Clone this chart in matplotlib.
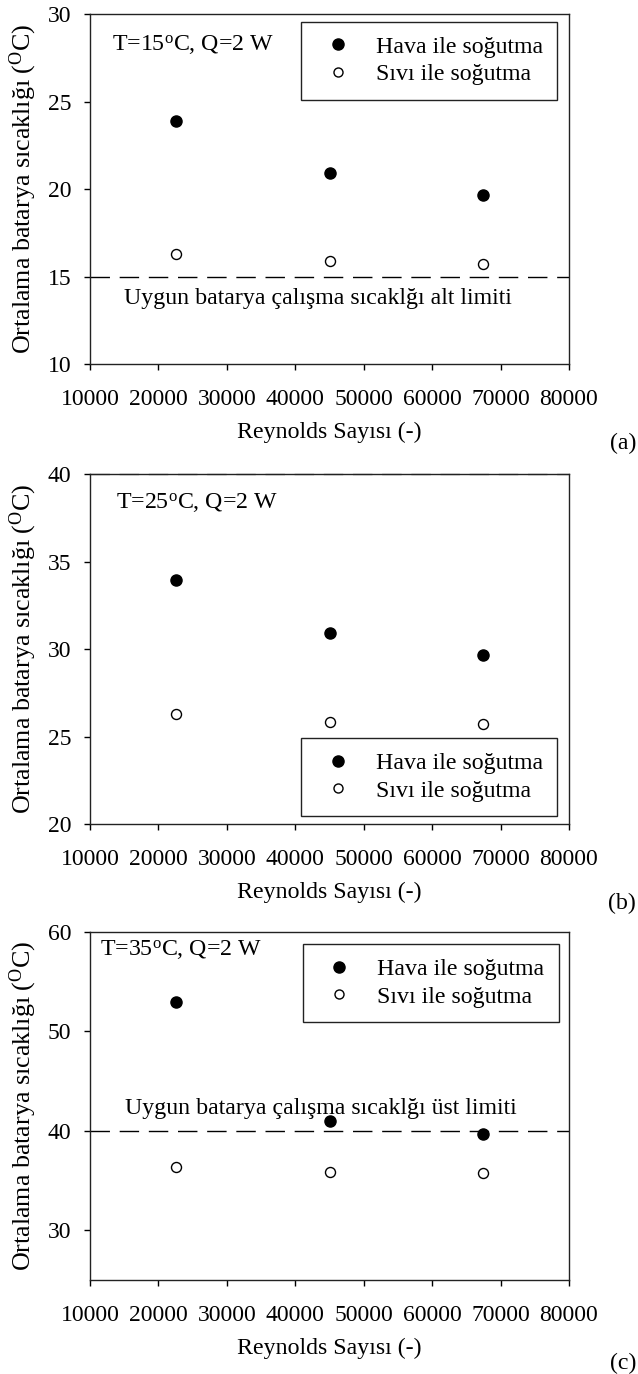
import matplotlib
matplotlib.use("Agg")
import matplotlib.pyplot as plt
from matplotlib.lines import Line2D

plt.rcParams['font.family'] = ['Liberation Serif', 'DejaVu Serif']
plt.rcParams['mathtext.fontset'] = 'custom'
plt.rcParams['mathtext.rm'] = 'Liberation Serif'
plt.rcParams['mathtext.it'] = 'Liberation Serif:italic'
plt.rcParams['mathtext.bf'] = 'Liberation Serif:bold'

# ---- data ----
reynolds = [22500, 45000, 67500]
hava_a = [23.9, 20.9, 19.65]
sivi_a = [16.3, 15.9, 15.7]
hava_b = [33.95, 30.9, 29.65]
sivi_b = [26.3, 25.85, 25.7]
hava_c = [52.95, 41.0, 39.65]
sivi_c = [36.35, 35.9, 35.75]

x_ticks = [10000, 20000, 30000, 40000, 50000, 60000, 70000, 80000]
ylims = [(10, 30), (20, 40), (25, 60)]
yticks = [[10, 15, 20, 25, 30], [20, 25, 30, 35, 40], [30, 40, 50, 60]]
titles = [r'T=15$^{\mathrm{o}}$C, Q=2 W', r'T=25$^{\mathrm{o}}$C, Q=2 W', r'T=35$^{\mathrm{o}}$C, Q=2 W']
limits = [15, None, 40]
limit_texts = ['Uygun batarya çalışma sıcaklğı alt limiti', None,
               'Uygun batarya çalışma sıcaklğı üst limiti']
limit_text_y = [13.75, None, 42.2]
limit_text_x = [0.476, None, 0.483]
panel_labels = ['(a)', '(b)', '(c)']
legend_labels = ['Hava ile soğutma', 'Sıvı ile soğutma']
ylabel = r'Ortalama batarya sıcaklığı ($^{\mathrm{O}}$C)'
xlabel = 'Reynolds Sayısı (-)'

hava = [hava_a, hava_b, hava_c]
sivi = [sivi_a, sivi_b, sivi_c]

W, H = 638, 1374
fig = plt.figure(figsize=(W / 100, H / 100), dpi=100)

left = 90 / W
width = (569 - 90) / W
tops = [14.3, 474.3, 931.7]
bottoms = [364, 824, 1280]
title_pos = [(0.046, 0.912), (0.054, 0.918), (0.020, 0.947)]
leg_anchor = [(0.975, 0.979), (0.975, 0.023), (0.979, 0.965)]
leg_loc = ['upper right', 'lower right', 'upper right']
panel_label_y = [443, 903, 1363]
fs = 17.2
fs_tick = 17
fs_ylabel = 18.7

for i in range(3):
    b = 1 - bottoms[i] / H
    h = (bottoms[i] - tops[i]) / H
    ax = fig.add_axes([left, b, width, h])
    ax.scatter(reynolds, hava[i], s=64, c='black', edgecolors='black', zorder=3)
    ax.scatter(reynolds, sivi[i], s=52, facecolors='white', edgecolors='black', linewidths=1.0, zorder=3)
    if limits[i] is not None:
        ax.axhline(limits[i], color='black', lw=1.0, dashes=(14, 7), zorder=2)
        ax.text(limit_text_x[i], limit_text_y[i], limit_texts[i], transform=ax.get_yaxis_transform(),
                ha='center', va='center', fontsize=fs)
    if i == 1:
        ax.axhline(40, color='gray', lw=1.0, dashes=(14, 7), zorder=1, clip_on=False)
    ax.set_xlim(10000, 80000)
    ax.set_ylim(*ylims[i])
    ax.set_xticks(x_ticks)
    ax.set_xticklabels([str(t) for t in x_ticks])
    ax.set_yticks(yticks[i])
    ax.tick_params(axis='both', direction='out', length=4, width=1, labelsize=fs_tick, colors='black')
    ax.tick_params(axis='x', pad=14)
    ax.tick_params(axis='y', pad=9.5)
    for sp in ax.spines.values():
        sp.set_linewidth(1.0)
        sp.set_color('#222222')
    ax.text(title_pos[i][0], title_pos[i][1], titles[i], transform=ax.transAxes,
            ha='left', va='center', fontsize=fs)
    ax.set_ylabel(ylabel, fontsize=fs_ylabel)
    ax.yaxis.set_label_coords(-0.107, 0.5)
    ax.set_xlabel(xlabel, fontsize=fs)
    ax.xaxis.set_label_coords(0.5, -0.165)

    handles = [Line2D([], [], ls='none', marker='o', ms=8, mfc='black', mec='black'),
               Line2D([], [], ls='none', marker='o', ms=6.5, mfc='white', mec='black', mew=1.0)]
    leg = ax.legend(handles, legend_labels, loc=leg_loc[i], bbox_to_anchor=leg_anchor[i],
                    borderaxespad=0, fontsize=fs, frameon=True, fancybox=False,
                    edgecolor='#222222', framealpha=1, borderpad=0.6, handlelength=1.88,
                    handletextpad=0.65, labelspacing=0.25)
    leg.get_frame().set_linewidth(1.0)

    fig.text(636 / W, 1 - panel_label_y[i] / H, panel_labels[i], ha='right', va='center', fontsize=fs)

fig.savefig('out.png', dpi=100)
